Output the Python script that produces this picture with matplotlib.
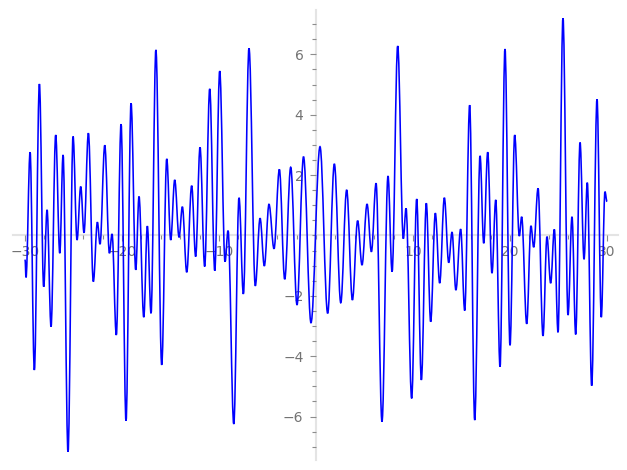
import matplotlib
matplotlib.use("Agg")
import matplotlib.pyplot as plt
from matplotlib.path import Path
from matplotlib.patches import PathPatch
from matplotlib.ticker import FixedLocator, MultipleLocator

# turning points of the curve (peaks and troughs)
turn_x = [-30.0, -29.9, -29.48, -29.04, -28.52, -28.08, -27.73, -27.32, -26.84, -26.42,
          -26.08, -25.57, -25.05, -24.64, -24.26, -23.92, -23.47, -22.96, -22.54, -22.27,
          -21.78, -21.30, -21.03, -20.59, -20.10, -19.59, -19.07, -18.59, -18.25, -17.76,
          -17.39, -17.01, -16.51, -15.91, -15.39, -14.98, -14.57, -14.12, -13.78, -13.33,
          -12.82, -12.41, -11.96, -11.48, -10.96, -10.44, -9.93, -9.38, -9.07, -8.48,
          -7.94, -7.49, -6.91, -6.26, -5.77, -5.33, -4.85, -4.33, -3.78, -3.23,
          -2.61, -1.96, -1.29, -0.52, 0.41, 1.20, 1.89, 2.55, 3.16, 3.75,
          4.29, 4.74, 5.26, 5.71, 6.19, 6.80, 7.42, 7.84, 8.42, 9.00,
          9.28, 9.86, 10.38, 10.86, 11.37, 11.82, 12.30, 12.75, 13.23, 13.68,
          14.02, 14.42, 14.91, 15.33, 15.84, 16.36, 16.91, 17.29, 17.70, 18.14,
          18.53, 18.97, 19.48, 20.00, 20.48, 20.96, 21.20, 21.72, 22.16, 22.44,
          22.89, 23.40, 23.81, 24.19, 24.57, 24.95, 25.46, 25.98, 26.39, 26.77,
          27.22, 27.63, 27.97, 28.42, 28.97, 29.41, 29.79, 30.0]
turn_y = [-0.80, -1.39, 2.76, -4.46, 5.02, -1.70, 0.85, -3.02, 3.33, -0.59,
          2.67, -7.17, 3.28, -0.15, 1.62, 0.09, 3.39, -1.53, 0.44, -0.29,
          2.99, -0.59, 0.05, -3.30, 3.69, -6.14, 4.38, -1.14, 1.29, -2.71,
          0.31, -2.58, 6.15, -4.29, 2.54, -0.15, 1.84, -0.06, 0.95, -1.22,
          1.65, -0.70, 2.92, -1.03, 4.86, -1.17, 5.45, -0.87, 0.16, -6.25,
          1.25, -1.94, 6.20, -1.67, 0.57, -1.01, 1.03, -0.44, 2.19, -1.45,
          2.26, -2.30, 2.61, -2.89, 2.94, -2.58, 2.37, -2.23, 1.51, -2.14,
          0.49, -0.98, 1.04, -0.54, 1.73, -6.17, 1.97, -1.20, 6.28, -0.11,
          0.90, -5.40, 1.21, -4.79, 1.07, -2.86, 0.74, -1.58, 1.25, -0.90,
          0.11, -1.81, 0.21, -2.49, 4.32, -6.12, 2.64, -0.26, 2.76, -1.25,
          1.18, -4.35, 6.18, -3.64, 3.33, -0.02, 0.62, -2.93, 0.32, -0.39,
          1.56, -3.33, -0.04, -1.58, 0.20, -3.21, 7.20, -2.64, 0.62, -3.28,
          3.08, -0.79, 1.75, -4.98, 4.51, -2.71, 1.45, 1.12]

xticks = [-30, -20, -10, 10, 20, 30]
yticks = [-6, -4, -2, 2, 4, 6]

fig = plt.figure(figsize=(6.27, 4.70), dpi=100)
ax = fig.add_axes([0.0203, 0.0213, 0.9653, 0.9574])

# smooth curve: cubic pieces between turning points with flat tangents
k = 0.364
verts = [(turn_x[0], turn_y[0])]
codes = [Path.MOVETO]
for i in range(len(turn_x) - 1):
    x0, y0, x1, y1 = turn_x[i], turn_y[i], turn_x[i + 1], turn_y[i + 1]
    dx = x1 - x0
    verts += [(x0 + k * dx, y0), (x1 - k * dx, y1), (x1, y1)]
    codes += [Path.CURVE4] * 3
ax.add_patch(PathPatch(Path(verts, codes), fill=False, edgecolor='blue',
                       lw=1.15, zorder=3))

ax.set_xlim(-31.27, 31.13)
ax.set_ylim(-7.44, 7.47)

# sage-like axes through the origin
for side in ['top', 'right']:
    ax.spines[side].set_visible(False)
ax.spines['left'].set_position(('data', 0))
ax.spines['bottom'].set_position(('data', 0))
for side in ['left', 'bottom']:
    ax.spines[side].set_color('#e4e4e4')
    ax.spines[side].set_linewidth(1.5)
    ax.spines[side].set_zorder(1)

ax.xaxis.set_major_locator(FixedLocator(xticks))
ax.yaxis.set_major_locator(FixedLocator(yticks))
ax.xaxis.set_minor_locator(MultipleLocator(2))
ax.yaxis.set_minor_locator(MultipleLocator(0.5))
ax.tick_params(which='both', direction='out', color='0.55', width=0.8,
               labelcolor='0.45', labelsize=10)
ax.tick_params(which='major', length=4)
ax.tick_params(which='minor', length=3)
ax.tick_params(axis='x', which='major', pad=3)
ax.tick_params(axis='y', which='major', pad=5)

fig.savefig('out.png', dpi=100)
